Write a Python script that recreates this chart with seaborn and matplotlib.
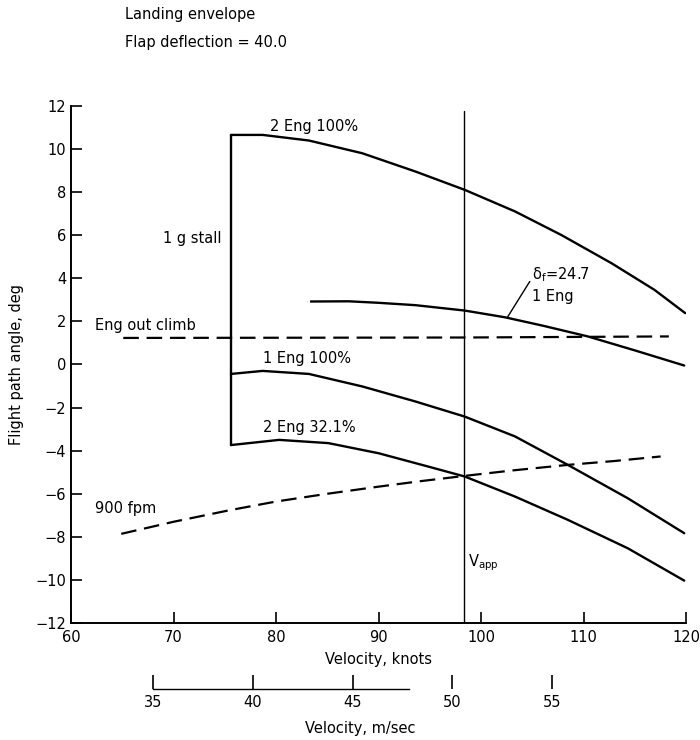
import matplotlib
matplotlib.use("Agg")
import matplotlib.pyplot as plt
import seaborn as sns
import numpy as np
import pandas as pd

# ---- data (knots, deg) ----
two_eng_100_v = [75.6, 78.7, 83.2, 88.4, 93.6, 98.4, 103.3, 107.8, 112.7, 116.9, 119.9]
two_eng_100_g = [10.65, 10.65, 10.39, 9.80, 8.95, 8.10, 7.10, 6.01, 4.70, 3.46, 2.38]

one_eng_100_v = [75.6, 78.7, 83.2, 88.4, 93.6, 98.4, 103.3, 108.45, 114.3, 119.8]
one_eng_100_g = [-0.44, -0.30, -0.44, -1.02, -1.72, -2.42, -3.34, -4.66, -6.21, -7.83]

two_eng_32_v = [75.6, 80.3, 85.1, 90.0, 94.85, 98.4, 103.3, 108.45, 114.3, 119.8]
two_eng_32_g = [-3.74, -3.50, -3.65, -4.12, -4.74, -5.20, -6.13, -7.21, -8.53, -10.03]

flap247_v = [83.2, 87.1, 90.0, 93.6, 98.4, 102.3, 106.0, 110.4, 115.0, 119.8]
flap247_g = [2.92, 2.93, 2.86, 2.75, 2.50, 2.19, 1.80, 1.30, 0.65, -0.05]

eng_out_v = [65.1, 98.3, 118.3]
eng_out_g = [1.23, 1.25, 1.30]

fpm900_v = [64.9, 70.0, 75.4, 80.0, 85.0, 90.0, 94.0, 98.4, 103.0, 108.45, 113.0, 117.5]
fpm900_g = [-7.86, -7.30, -6.77, -6.36, -6.00, -5.67, -5.42, -5.17, -4.92, -4.66, -4.48, -4.27]

stall_v = [75.6, 75.6]
stall_g = [-3.74, 10.65]

v_app = 98.3

knot_ticks = [60, 70, 80, 90, 100, 110, 120]
angle_ticks = [-12, -10, -8, -6, -4, -2, 0, 2, 4, 6, 8, 10, 12]
ms_ticks = [35, 40, 45, 50, 55]
KN_PER_MS = 1.94384

sns.set_theme(style="ticks")
plt.rcParams['font.family'] = ['DejaVu Sans']
plt.rcParams['text.color'] = 'black'
plt.rcParams['axes.labelcolor'] = 'black'

fig = plt.figure(figsize=(7, 7.4), dpi=100)
ax = fig.add_axes([0.1014, 0.158, 0.879, 0.699])

solid = dict(color="black", linewidth=1.7, estimator=None, sort=False, legend=False)
dash_kw = dict(color="black", linewidth=1.6, estimator=None, sort=False, legend=False)

sns.lineplot(x=two_eng_100_v, y=two_eng_100_g, ax=ax, **solid)
sns.lineplot(x=one_eng_100_v, y=one_eng_100_g, ax=ax, **solid)
sns.lineplot(x=two_eng_32_v, y=two_eng_32_g, ax=ax, **solid)
sns.lineplot(x=stall_v, y=stall_g, ax=ax, **solid)
sns.lineplot(x=flap247_v, y=flap247_g, ax=ax, marker="|", markevery=[0],
             markersize=9, markeredgewidth=1.5, **solid)
sns.lineplot(x=eng_out_v, y=eng_out_g, ax=ax, **dash_kw)
ax.lines[-1].set_dashes((7, 3.5))
sns.lineplot(x=fpm900_v, y=fpm900_g, ax=ax, **dash_kw)
ax.lines[-1].set_dashes((7, 3.5))

ax.axvline(v_app, ymin=0, ymax=0.99, color="black", linewidth=1.0)

# leader line
ax.plot([102.56, 104.74], [2.19, 3.85], color="black", linewidth=1.0)

fs = 10.5
ax.text(79.4, 11.04, "2 Eng 100%", fontsize=fs, ha="left", va="center")
ax.text(74.7, 5.83, "1 g stall", fontsize=fs, ha="right", va="center")
ax.text(62.3, 1.79, "Eng out climb", fontsize=fs, ha="left", va="center")
ax.text(78.7, 0.26, "1 Eng 100%", fontsize=fs, ha="left", va="center")
ax.text(78.7, -2.94, "2 Eng 32.1%", fontsize=fs, ha="left", va="center")
ax.text(62.3, -6.7, "900 fpm", fontsize=fs, ha="left", va="center")
ax.text(105.0, 4.16, r"$\mathregular{\delta_f}$=24.7", fontsize=fs, ha="left", va="center")
ax.text(105.0, 3.15, "1 Eng", fontsize=fs, ha="left", va="center")
ax.text(98.7, -9.2, r"$\mathregular{V_{app}}$", fontsize=fs, ha="left", va="center")

ax.set_xlim(60, 120)
ax.set_ylim(-12, 12)
ax.set_xticks(knot_ticks)
ax.set_yticks(angle_ticks)
ax.set_yticklabels([str(t).replace("-", "\u2212") for t in angle_ticks])
ax.tick_params(axis="both", direction="in", length=8, width=1.2, labelsize=fs, colors="black")
ax.tick_params(axis="x", pad=5)
for s in ["top", "right"]:
    ax.spines[s].set_visible(False)
for s in ["left", "bottom"]:
    ax.spines[s].set_linewidth(1.4)
    ax.spines[s].set_color("black")
ax.set_xlabel("Velocity, knots", fontsize=fs, labelpad=5)
ax.set_ylabel("Flight path angle, deg", fontsize=fs, labelpad=8)

secax = ax.secondary_xaxis(-0.128, functions=(lambda k: k / KN_PER_MS,
                                               lambda m: m * KN_PER_MS))
secax.set_xticks(ms_ticks)
secax.tick_params(direction="in", length=10, width=1.2, labelsize=fs, colors="black", pad=4)
secax.spines["bottom"].set_bounds(35, 47.8)
secax.spines["bottom"].set_linewidth(1.0)
secax.spines["bottom"].set_color("black")
secax.set_xlabel("Velocity, m/sec", fontsize=fs)
secax.xaxis.set_label_coords(0.47, -0.19, transform=ax.transAxes)

fig.text(125 / 700, 1 - 15 / 740, "Landing envelope", fontsize=fs, ha="left", va="center")
fig.text(125 / 700, 1 - 43 / 740, "Flap deflection = 40.0", fontsize=fs, ha="left", va="center")

fig.savefig("out.png", dpi=100, facecolor="white")
